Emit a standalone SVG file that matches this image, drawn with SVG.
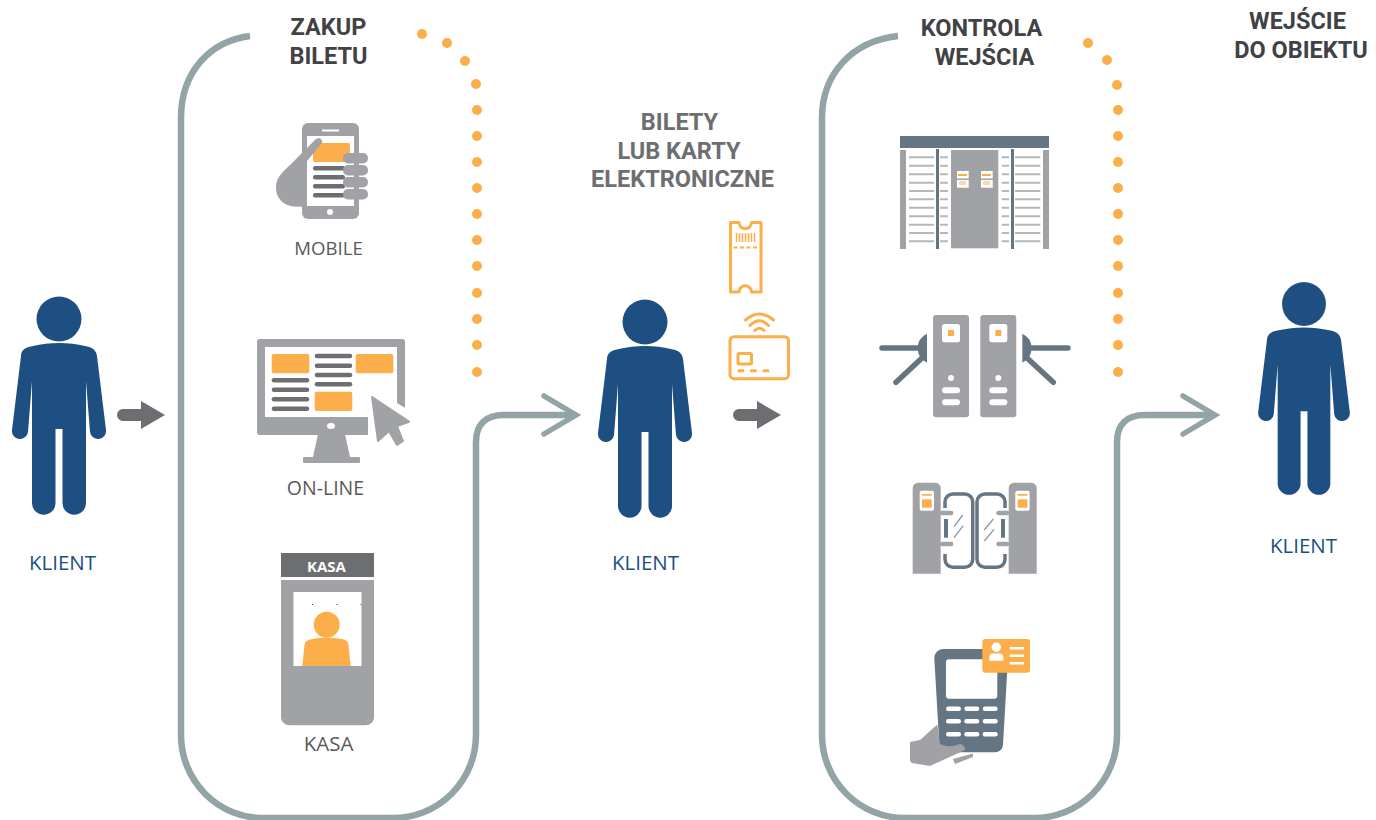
<svg xmlns="http://www.w3.org/2000/svg" width="1376" height="820" viewBox="0 0 1376 820">
<style>
text{font-family:"Open Sans","Noto Sans","Liberation Sans",sans-serif;text-anchor:middle}
.h,.h2{font-family:Roboto,"Open Sans",sans-serif;font-weight:700;font-size:23.500px}
.h{fill:#414245}
.h2{fill:#6d6e71}
.l{font-size:18.6px;fill:#58595b}
.k{font-size:20.5px;fill:#1d4f82}
.g{fill:#a1a2a5}.o{fill:#fbae4a}.d{fill:#6d6e71}.s{fill:#647584}.w{fill:#fff}
.ol{fill:none;stroke:#92a4a6;stroke-width:6.500}
.ch{fill:none;stroke:#92a4a6;stroke-width:5.500;stroke-linecap:round;stroke-miterlimit:10}
.ostr{fill:none;stroke:#fbae4a;stroke-width:3;stroke-linejoin:round;stroke-linecap:round}
.dots circle{fill:#fbae4a}
.arm{stroke:#647584;stroke-width:5.500;stroke-linecap:round;fill:none}
</style>
<defs>
<g id="person"><circle r="22.500" fill="#1d4f82"/><path fill="#1d4f82" d="M-38,37C-38,30 -32,28 -26,27C-10,23 10,23 26,27C32,28 37,30 38,37L47,111A8,8 0 0 1 31,113L27,62V184A11.500,11.500 0 0 1 3.500,184V110H-3.500V184A11.500,11.500 0 0 1 -27,184V62L-31,113A8,8 0 0 1 -47,111Z"/></g>
<g id="arrow"><path class="d" d="M6,-6H24V-14L48,0L24,14V6H6A6,6 0 0 1 6,-6Z"/></g>
</defs>
<g id="connectors">
<path class="ol" d="M250,36C210,41 181,72 181,118V735A82,83 0 0 0 263,818H393A83,83 0 0 0 476,735V442C476,424 486,415 504,415H573"/>
<path class="ch" d="M544,396L576,415L544,434"/>
<path class="ol" d="M898,36C852,41 822,74 822,118V735A83,83 0 0 0 905,818H1034A83,83 0 0 0 1117,735V442C1117,424 1127,415 1145,415H1212"/>
<path class="ch" d="M1183,396L1215,415L1183,434"/>
<use href="#arrow" x="117" y="415"/>
<use href="#arrow" x="733" y="415"/>
<g class="dots"><circle cx="422" cy="34" r="5"/><circle cx="447" cy="43" r="5"/><circle cx="465" cy="61" r="5"/><circle cx="476" cy="84" r="5"/><circle cx="477" cy="110" r="5"/><circle cx="477" cy="136" r="5"/><circle cx="477" cy="162" r="5"/><circle cx="477" cy="188" r="5"/><circle cx="477" cy="214" r="5"/><circle cx="477" cy="240" r="5"/><circle cx="477" cy="266" r="5"/><circle cx="477" cy="293" r="5"/><circle cx="477" cy="319" r="5"/><circle cx="477" cy="345" r="5"/><circle cx="477" cy="372" r="5"/></g>
<g class="dots"><circle cx="1088" cy="43" r="5"/><circle cx="1107" cy="60" r="5"/><circle cx="1117" cy="85" r="5"/><circle cx="1118" cy="110" r="5"/><circle cx="1118" cy="136" r="5"/><circle cx="1118" cy="162" r="5"/><circle cx="1118" cy="188" r="5"/><circle cx="1118" cy="214" r="5"/><circle cx="1118" cy="240" r="5"/><circle cx="1118" cy="266" r="5"/><circle cx="1118" cy="293" r="5"/><circle cx="1118" cy="319" r="5"/><circle cx="1118" cy="345" r="5"/><circle cx="1118" cy="372" r="5"/></g>
</g>
<g id="titles">
<text class="h" x="328.500" y="35">ZAKUP</text><text class="h" x="328.500" y="64">BILETU</text>
<text class="h2" x="679.500" y="130">BILETY</text><text class="h2" x="679" y="158.500">LUB KARTY</text><text class="h2" x="682.500" y="186.500">ELEKTRONICZNE</text>
<text class="h" x="981.500" y="36">KONTROLA</text><text class="h" x="984.500" y="65">WEJŚCIA</text>
<text class="h" x="1297.500" y="29">WEJŚCIE</text><text class="h" x="1301" y="58">DO OBIEKTU</text>
</g>
<g id="client-1"><use href="#person" x="59" y="319"/><text class="k" x="62.500" y="570">KLIENT</text></g>
<g id="client-2"><use href="#person" x="645" y="322"/><text class="k" x="645.500" y="570">KLIENT</text></g>
<g id="client-3"><g transform="translate(1304 304) scale(.975)"><use href="#person"/></g><text class="k" x="1303.500" y="553">KLIENT</text></g>
<g id="mobile">
<rect class="g" x="302" y="123" width="57" height="96" rx="6"/>
<rect class="w" x="307" y="136" width="47" height="70"/>
<rect class="w" x="322" y="129.500" width="17" height="2"/>
<circle class="w" cx="330" cy="212" r="3"/>
<rect class="o" x="313" y="143" width="37" height="19" rx="2"/>
<g class="d"><rect x="313" y="166" width="32" height="4.500" rx="2"/><rect x="313" y="175" width="32" height="4.500" rx="2"/><rect x="313" y="184" width="32" height="4.500" rx="2"/><rect x="313" y="193" width="32" height="4.500" rx="2"/></g>
<path class="g" d="M316,139C319,137 323,139 322,143L307,161V206.700H302C288,208 276,202 276,187C276,175 288,168 296,159Z"/>
<g class="g"><rect x="343" y="153" width="25" height="10.500" rx="5"/><rect x="343" y="165" width="25" height="10.500" rx="5"/><rect x="343" y="177" width="25" height="10.500" rx="5"/><rect x="343" y="189" width="25" height="10.500" rx="5"/></g>
<text class="l" x="328.500" y="255">MOBILE</text>
</g>
<g id="online">
<rect class="g" x="257" y="339" width="148" height="96" rx="3"/>
<path class="g" d="M318,434L313,457H350L345,434Z"/>
<rect class="g" x="303" y="457" width="57" height="6" rx="1"/>
<rect class="w" x="265" y="347" width="132" height="70"/>
<ellipse class="w" cx="331" cy="426" rx="4" ry="3"/>
<path class="w" d="M368,415L368,436H407V409L397,403Z"/>
<path class="g" stroke="#a1a2a5" stroke-width="2" stroke-linejoin="round" d="M372,397L409,421.700L397,426L403,441L397,445L389,431L378,441Z"/>
<g class="o"><rect x="271.700" y="354" width="37.600" height="19.300" rx="2"/><rect x="355.700" y="354" width="37.600" height="19.300" rx="2"/><rect x="314.700" y="391.700" width="37.600" height="19.300" rx="2"/></g>
<g class="d"><rect x="271.700" y="378" width="37.600" height="4.600" rx="2.300"/><rect x="271.700" y="387.400" width="37.600" height="4.600" rx="2.300"/><rect x="271.700" y="397" width="37.600" height="4.600" rx="2.300"/><rect x="271.700" y="406.400" width="37.600" height="4.600" rx="2.300"/><rect x="314.700" y="353.700" width="37.600" height="4.600" rx="2.300"/><rect x="314.700" y="363.400" width="37.600" height="4.600" rx="2.300"/><rect x="314.700" y="372.700" width="37.600" height="4.600" rx="2.300"/><rect x="314.700" y="382" width="37.600" height="4.600" rx="2.300"/></g>
<text class="l" style="font-size:19.500px" x="325.500" y="495">ON-LINE</text>
</g>
<g id="kasa">
<rect class="d" x="281" y="553" width="93" height="24"/>
<text x="326.500" y="571.500" font-size="15" font-weight="700" fill="#fff">KASA</text>
<path class="g" d="M281,580H374V717A8,8 0 0 1 366,725.300H289A8,8 0 0 1 281,717Z"/>
<rect class="w" x="293.500" y="592" width="68" height="74"/>
<rect x="312" y="604" width="1" height="1" fill="#1d4f82"/><rect x="336.500" y="604" width="1" height="1" fill="#1d4f82"/><rect x="360.500" y="604" width="1" height="1" fill="#1d4f82"/>
<circle class="o" cx="326.700" cy="624.700" r="13"/>
<path class="o" d="M302.300,666L304.500,645C305,641 308,640 312,639C322,637 332,637 342,639C346,640 348,641 348.500,645L350.700,666Z"/>
<text class="l" style="font-size:20.500px" x="328.500" y="751">KASA</text>
</g>
<g id="gate-speed">
<rect class="s" x="900" y="136" width="149" height="12"/>
<rect class="g" x="900" y="150" width="6" height="99"/><rect class="g" x="1043" y="150" width="6" height="99"/>
<rect class="s" x="936" y="149" width="3" height="100"/><rect class="s" x="1011" y="149" width="3" height="100"/>
<rect class="g" x="951" y="150" width="47.300" height="98.300"/>
<path stroke="#b5b8b8" stroke-width="2" stroke-dasharray="25 6 8 53.700 7.300 6 25.300" fill="none" d="M909,157.300H1040.300M909,165.700H1040.300M909,174.300H1040.300M909,182.700H1040.300M909,191H1040.300M909,199.300H1040.300M909,207.700H1040.300M909,216.300H1040.300M909,224.700H1040.300M909,233H1040.300M909,241.300H1040.300"/>
<rect class="w" x="957" y="171" width="11.700" height="7.500"/><rect class="w" x="957" y="180" width="11.700" height="7.700"/><rect class="w" x="981" y="171" width="11.700" height="7.500"/><rect class="w" x="981" y="180" width="11.700" height="7.700"/>
<rect class="o" x="958" y="174" width="9" height="2"/><rect class="o" x="982" y="174" width="9" height="2"/>
<rect x="959" y="181" width="7" height="4" fill="#fcd9a8"/><rect x="983" y="181" width="7" height="4" fill="#fcd9a8"/>
</g>
<g id="gate-tripod">
<path class="s" d="M927,333.700A16,16 0 0 0 927,362.700Z"/><path class="s" d="M1022.300,333.700A16,16 0 0 1 1022.300,362.700Z"/>
<path class="arm" d="M882,348H918M896,382.300L922,358M1068,348H1032M1053.300,382.300L1027,358"/>
<rect class="g" x="933" y="315" width="36" height="102.300" rx="3"/><rect class="g" x="980.300" y="315" width="36" height="102.300" rx="3"/>
<rect class="w" x="942" y="324" width="18" height="18.300" rx="2.500"/><rect class="w" x="989.300" y="324" width="18" height="18.300" rx="2.500"/>
<rect class="o" x="948" y="330" width="6" height="6"/><rect class="o" x="995.300" y="330" width="6" height="6"/>
<circle class="w" cx="951" cy="378" r="3"/><circle class="w" cx="998.300" cy="378" r="3"/>
<rect class="w" x="942" y="387.300" width="18" height="6" rx="3"/><rect class="w" x="942" y="399.300" width="18" height="6" rx="3"/><rect class="w" x="989.300" y="387.300" width="18" height="6" rx="3"/><rect class="w" x="989.300" y="399.300" width="18" height="6" rx="3"/>
</g>
<g id="gate-glass">
<rect x="945" y="494" width="27.700" height="73.300" rx="8" fill="none" stroke="#647584" stroke-width="3.500"/>
<rect x="977" y="494" width="28" height="73.300" rx="8" fill="none" stroke="#647584" stroke-width="3.500"/>
<rect class="w" x="942" y="508" width="6" height="46"/><rect class="w" x="1002" y="508" width="6" height="46"/>
<path class="g" d="M912.700,488A5.300,5.300 0 0 1 918,482.700H935.400A5.300,5.300 0 0 1 940.700,488V573.700H912.700Z"/>
<path class="g" d="M1008.700,488A5.300,5.300 0 0 1 1014,482.700H1031.400A5.300,5.300 0 0 1 1036.700,488V573.700H1008.700Z"/>
<rect class="g" x="940" y="510.700" width="13.300" height="4.600" rx="2"/><rect class="g" x="940" y="541.700" width="13.300" height="4.600" rx="2"/><rect class="g" x="996.300" y="510.700" width="13" height="4.600" rx="2"/><rect class="g" x="996.300" y="541.700" width="13" height="4.600" rx="2"/>
<rect class="s" x="944" y="519" width="4" height="18.700"/><rect class="s" x="1001" y="519" width="4" height="18.700"/>
<path stroke="#8a97a3" stroke-width="1.300" fill="none" d="M954,526.700L962.700,515M954,537.700L963.300,525.700M984.300,530L993.300,519M984.300,541L994,529.300"/>
<rect class="w" x="919.700" y="490.700" width="14.300" height="20" rx="2"/><rect class="w" x="1015.300" y="490.700" width="14.300" height="20" rx="2"/>
<rect class="o" x="922" y="494" width="9.700" height="1.700"/><rect class="o" x="922" y="499.300" width="9.700" height="8.400"/><rect class="o" x="1017.700" y="494" width="9.700" height="1.700"/><rect class="o" x="1017.700" y="499.300" width="9.700" height="8.400"/>
</g>
<g id="reader">
<path class="s" d="M934.300,658A9,9 0 0 1 943,649H999A9,9 0 0 1 1008,658L1003,745A8,8 0 0 1 995,752.300H947A8,8 0 0 1 939.300,745Z"/>
<rect class="w" x="946" y="659.300" width="51.300" height="39.400" rx="3"/>
<g class="w"><rect x="946" y="706.500" width="15" height="4.500" rx="2.200"/><rect x="964.300" y="706.500" width="15" height="4.500" rx="2.200"/><rect x="982.700" y="706.500" width="15" height="4.500" rx="2.200"/><rect x="946" y="719" width="15" height="4.500" rx="2.200"/><rect x="964.300" y="719" width="15" height="4.500" rx="2.200"/><rect x="982.700" y="719" width="15" height="4.500" rx="2.200"/><rect x="946" y="732" width="15" height="4.500" rx="2.200"/><rect x="964.300" y="732" width="15" height="4.500" rx="2.200"/><rect x="982.700" y="732" width="15" height="4.500" rx="2.200"/></g>
<path class="g" d="M910,742L920,740L937.300,724.500L940,744C948,748 955,746 960,744Q965,745 965,750L930,766L912,763Q910,762 910,760Z"/>
<path class="g" d="M953,759L973,753.500V757L955,764Z"/>
<rect class="o" x="982.300" y="639" width="47.700" height="33.700" rx="3"/>
<circle class="w" cx="996.300" cy="647.300" r="4.700"/>
<path class="w" d="M989.300,660.700V657Q989.300,653.500 993,653.500H999.700Q1003.300,653.500 1003.300,657V660.700Z"/>
<rect class="w" x="1009.700" y="647" width="14.300" height="2.500"/><rect class="w" x="1009.700" y="654.500" width="14.300" height="2.500"/><rect class="w" x="1009.700" y="662" width="14.300" height="2.500"/>
</g>
<g id="ticket">
<path class="ostr" d="M730.500,222.500H739A6,6 0 0 0 751.500,222.500H761V292H751.500A6,6 0 0 0 739,292H730.500Z"/>
<path fill="none" stroke="#fbae4a" stroke-width="1.500" d="M736.500,233V242M739.500,233V242M742.500,233V242M745.500,233V242M748.500,233V242M751.500,233V242M754.500,233V242"/>
<path class="ostr" stroke-dasharray="4 2.500" d="M733.500,247.500H758" style="stroke-linecap:butt;stroke-width:1.800"/>
</g>
<g id="card">
<rect class="ostr" x="730" y="336.700" width="58.500" height="42" rx="4"/>
<rect class="ostr" x="738" y="353.500" width="13.500" height="10.500" rx="1"/>
<path class="ostr" stroke-dasharray="6.500 6" d="M737.700,370.700H769.500" style="stroke-linecap:butt"/>
<path class="ostr" d="M745.500,320Q759.300,308 773.500,320M750,325.500Q759.300,316 768.500,325.500M754.800,330.500Q759.300,326 764,330.500"/>
</g>
</svg>
